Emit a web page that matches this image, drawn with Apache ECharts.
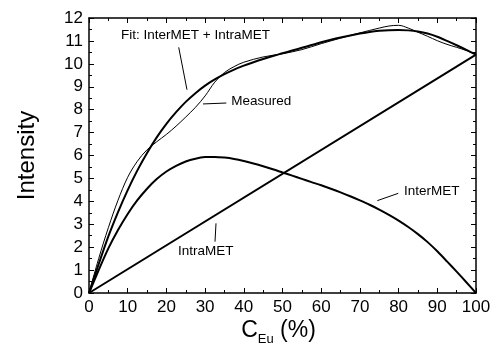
<!DOCTYPE html>
<html>
<head>
<meta charset="utf-8">
<script src="https://cdn.jsdelivr.net/npm/echarts@6/dist/echarts.min.js"></script>
<style>html,body{margin:0;padding:0;background:#fff;}#c{width:502px;height:351px;}</style>
</head>
<body>
<div id="c"></div>
<script>
// x positions (C_Eu %)
const xSteps = [0, 2.5, 5, 7.5, 10, 12.5, 15, 17.5, 20, 22.5, 25, 27.5, 30, 32.5, 35, 37.5, 40, 42.5, 45, 47.5, 50, 52.5, 55, 57.5, 60, 62.5, 65, 67.5, 70, 72.5, 75, 77.5, 80, 82.5, 85, 87.5, 90, 92.5, 95, 97.5, 100];
const interMET = [0, 1.0, 1.95, 2.75, 3.45, 4.05, 4.55, 4.97, 5.3, 5.55, 5.74, 5.86, 5.93, 5.94, 5.91, 5.85, 5.76, 5.65, 5.53, 5.4, 5.26, 5.12, 4.98, 4.84, 4.7, 4.55, 4.39, 4.22, 4.04, 3.85, 3.64, 3.41, 3.16, 2.88, 2.57, 2.22, 1.82, 1.38, 0.93, 0.47, 0];
const fitVals  = [0, 1.26, 2.47, 3.53, 4.49, 5.35, 6.11, 6.79, 7.38, 7.89, 8.34, 8.72, 9.05, 9.32, 9.55, 9.75, 9.92, 10.07, 10.21, 10.34, 10.46, 10.58, 10.7, 10.82, 10.94, 11.05, 11.15, 11.24, 11.32, 11.39, 11.44, 11.47, 11.48, 11.46, 11.41, 11.32, 11.18, 11.0, 10.81, 10.61, 10.4];
const intraX = [0, 100];
const intraMET = [0, 10.4];
const measX = [0, 2.5, 5, 7.5, 10, 12.5, 15, 17.5, 20, 22.5, 25, 27.5, 30, 32.5, 35, 37.5, 40, 45, 50, 55, 60, 65, 70, 75, 77.5, 80, 82.5, 85, 87.5, 90, 92.5, 95, 97.5, 100];
const measured = [0, 1.5, 2.85, 4.05, 5.05, 5.75, 6.25, 6.6, 6.92, 7.28, 7.68, 8.1, 8.6, 9.2, 9.62, 9.88, 10.07, 10.3, 10.44, 10.62, 10.88, 11.12, 11.35, 11.56, 11.65, 11.68, 11.56, 11.38, 11.2, 11.01, 10.85, 10.72, 10.58, 10.42];
const xTicks = [0, 10, 20, 30, 40, 50, 60, 70, 80, 90, 100];
const yTicks = [0, 1, 2, 3, 4, 5, 6, 7, 8, 9, 10, 11, 12];
// annotations: [text, x, y] anchor (left, middle) and arrows [x1,y1,x2,y2]
const annText = [
  ['Fit: InterMET + IntraMET', 8.27, 11.26],
  ['Measured', 36.77, 8.36],
  ['InterMET', 81.4, 4.46],
  ['IntraMET', 23.0, 1.8]
];
const annArrows = [
  [23.18, 10.72, 25.32, 8.87],
  [35.48, 8.29, 29.46, 8.25],
  [79.92, 4.35, 74.5, 4.03],
  [32.56, 2.24, 32.82, 3.04]
];

const FONT = 'Liberation Sans, Arial, Helvetica, sans-serif';
const zip = (xs, ys) => xs.map((x, i) => [x, ys[i]]);

const chart = echarts.init(document.getElementById('c'), null, {renderer: 'canvas'});
const axisCommon = {
  type: 'value',
  axisLine: {show: true, onZero: false, lineStyle: {color: '#000', width: 1.5}},
  axisTick: {show: true, inside: true, length: 5, lineStyle: {color: '#000', width: 1}},
  minorTick: {show: true, splitNumber: 2, length: 3, lineStyle: {color: '#000', width: 1}},
  splitLine: {show: false},
  minorSplitLine: {show: false}
};
const option = {
  animation: false,
  backgroundColor: '#fff',
  grid: {left: 89, right: 26, top: 18, bottom: 58, containLabel: false},
  xAxis: [
    Object.assign({}, axisCommon, {
      min: 0, max: 100, interval: 10, position: 'bottom',
      axisLabel: {show: true, color: '#000', fontSize: 17, fontFamily: FONT, margin: 6,
        formatter: v => xTicks.includes(v) ? String(v) : ''}
    }),
    Object.assign({}, axisCommon, {
      min: 0, max: 100, interval: 10, position: 'top',
      axisLabel: {show: false}
    })
  ],
  yAxis: [
    Object.assign({}, axisCommon, {
      min: 0, max: 12, interval: 1, position: 'left',
      axisLabel: {show: true, color: '#000', fontSize: 17, fontFamily: FONT, margin: 6,
        formatter: v => yTicks.includes(v) ? String(v) : ''}
    }),
    Object.assign({}, axisCommon, {
      min: 0, max: 12, interval: 1, position: 'right',
      axisLabel: {show: false}
    })
  ],
  series: [
    {
      name: 'IntraMET', type: 'line', data: zip(intraX, intraMET), showSymbol: false,
      lineStyle: {color: '#000', width: 2}, silent: true,
      markLine: {
        silent: true, symbol: ['none', 'arrow'], symbolSize: [0, 7],
        lineStyle: {color: '#000', width: 1, type: 'solid'}, label: {show: false},
        data: annArrows.map(a => [{coord: [a[0], a[1]]}, {coord: [a[2], a[3]]}])
      }
    },
    {
      name: 'InterMET', type: 'line', data: zip(xSteps, interMET), showSymbol: false, smooth: 0.3,
      lineStyle: {color: '#000', width: 2}, silent: true
    },
    {
      name: 'Fit', type: 'line', data: zip(xSteps, fitVals), showSymbol: false, smooth: 0.3,
      lineStyle: {color: '#000', width: 2}, silent: true
    },
    {
      name: 'Measured', type: 'line', data: zip(measX, measured), showSymbol: false, smooth: 0.35,
      lineStyle: {color: '#000', width: 1}, silent: true
    }
  ]
};
chart.setOption(option);

const gfx = [];
annText.forEach(t => {
  const p = chart.convertToPixel({xAxisIndex: 0, yAxisIndex: 0}, [t[1], t[2]]);
  gfx.push({type: 'text', x: p[0], y: p[1], silent: true,
    style: {text: t[0], fill: '#000', font: '13.5px ' + FONT, textAlign: 'left', textVerticalAlign: 'middle'}});
});
// axis titles
const gL = 89, gR = 502 - 26, gT = 18, gB = 351 - 58;
gfx.push({type: 'text', x: 27, y: (gT + gB) / 2, rotation: Math.PI / 2, silent: true,
  style: {text: 'Intensity', fill: '#000', font: '24px ' + FONT, textAlign: 'center', textVerticalAlign: 'middle'}});
gfx.push({type: 'text', x: (gL + gR) / 2 - 4, y: 329, silent: true,
  style: {
    text: '{c|C}{s|Eu}{c| (%)}',
    textAlign: 'center', textVerticalAlign: 'middle',
    rich: {
      c: {fontSize: 23, fontFamily: FONT, fill: '#000', color: '#000', verticalAlign: 'bottom', lineHeight: 26},
      s: {fontSize: 13, fontFamily: FONT, fill: '#000', color: '#000', verticalAlign: 'bottom', lineHeight: 20, padding: [0, 0, -4, 0]}
    }
  }});
chart.setOption({graphic: gfx});
</script>
</body>
</html>
